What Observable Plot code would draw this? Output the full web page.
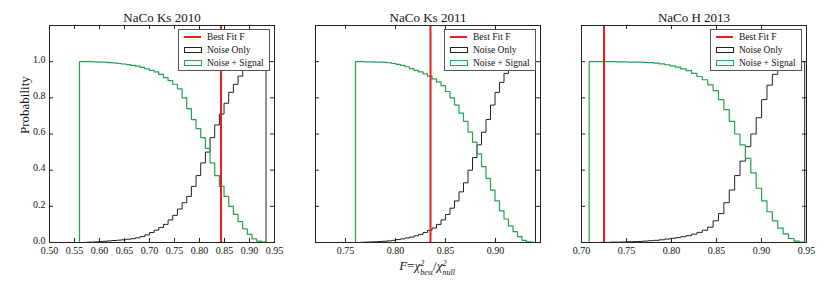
<!DOCTYPE html>
<html><head><meta charset="utf-8">
<script src="https://cdn.jsdelivr.net/npm/d3@7"></script>
<script src="https://cdn.jsdelivr.net/npm/@observablehq/plot@0.6"></script>
<style>
html,body{margin:0;padding:0;background:#fff;}
body{width:830px;height:282px;overflow:hidden;position:relative;font-family:"Liberation Serif","DejaVu Serif",serif;color:#111;}
.panel{position:absolute;top:0;}
.panel svg text{font-family:"Liberation Serif","DejaVu Serif",serif;}
.legend{position:absolute;top:29px;width:92px;height:42px;border:1px solid #555;background:#fff;box-sizing:border-box;font-size:9.5px;}
.legend .row{position:absolute;left:0;right:0;height:12px;}
.legend .lbl{position:absolute;left:28px;top:0;line-height:12px;white-space:nowrap;}
.legend .sw{position:absolute;left:5px;}
.xlabel{position:absolute;left:327px;width:200px;top:259px;text-align:center;font-size:13px;line-height:14px;white-space:nowrap;}
.xlabel i{font-style:italic;}
.ss{display:inline-block;vertical-align:-5px;line-height:9px;font-size:8px;text-align:left;font-style:italic;}
.ss span{display:block;height:9px;}
</style></head><body>
<script>
// ---- data ----
const titles = ["NaCo Ks 2010", "NaCo Ks 2011", "NaCo H 2013"];
const xDomain1 = [0.50, 0.95];
const xDomain2 = [0.72, 0.945];
const xDomain3 = [0.70, 0.95];
const xTicks1 = [0.50, 0.55, 0.60, 0.65, 0.70, 0.75, 0.80, 0.85, 0.90, 0.95];
const xTicks2 = [0.75, 0.80, 0.85, 0.90];
const xTicks3 = [0.70, 0.75, 0.80, 0.85, 0.90, 0.95];
const yTicks = [0.0, 0.2, 0.4, 0.6, 0.8, 1.0];
const bestFit = [0.843, 0.835, 0.725];
// histogram bin range [first edge, last edge] per panel (40 equal bins)
const binRange1 = [0.560, 0.933];
const binRange2 = [0.760, 0.940];
const binRange3 = [0.7085, 0.948];
// cumulative probabilities per bin
const signal1 = [1.0,1.0,1.0,0.999,0.998,0.997,0.995,0.993,0.99,0.987,0.984,0.98,0.975,0.968,0.96,0.952,0.943,0.93,0.912,0.895,0.875,0.85,0.80,0.74,0.68,0.63,0.58,0.52,0.44,0.37,0.31,0.255,0.2,0.155,0.115,0.075,0.045,0.02,0.008,0.002];
const noise1 = [0.0,0.001,0.002,0.003,0.005,0.007,0.009,0.011,0.013,0.015,0.018,0.021,0.026,0.033,0.042,0.055,0.068,0.083,0.1,0.125,0.15,0.185,0.22,0.255,0.31,0.37,0.44,0.5,0.58,0.65,0.71,0.77,0.83,0.875,0.92,0.96,0.985,0.995,1.0,1.0];
const signal2 = [1.0,1.0,0.999,0.999,0.998,0.997,0.996,0.994,0.99,0.985,0.98,0.972,0.962,0.952,0.943,0.932,0.92,0.905,0.888,0.868,0.835,0.8,0.76,0.715,0.67,0.61,0.555,0.49,0.42,0.355,0.29,0.23,0.175,0.13,0.092,0.06,0.032,0.012,0.004,0.001];
const noise2 = [0.0,0.001,0.002,0.003,0.004,0.005,0.007,0.009,0.012,0.016,0.02,0.025,0.03,0.037,0.045,0.055,0.067,0.08,0.1,0.125,0.155,0.19,0.23,0.28,0.33,0.4,0.47,0.54,0.61,0.68,0.76,0.83,0.885,0.935,0.97,0.99,0.997,1.0,1.0,1.0];
const signal3 = [1.0,1.0,1.0,1.0,1.0,0.999,0.999,0.998,0.998,0.997,0.996,0.995,0.992,0.988,0.983,0.977,0.97,0.96,0.95,0.935,0.918,0.9,0.872,0.84,0.79,0.735,0.67,0.6,0.54,0.465,0.385,0.3,0.23,0.17,0.12,0.08,0.048,0.022,0.008,0.002];
const noise3 = [0.0,0.0,0.001,0.001,0.002,0.002,0.003,0.004,0.005,0.006,0.008,0.01,0.012,0.015,0.019,0.023,0.027,0.032,0.038,0.046,0.056,0.068,0.085,0.12,0.16,0.22,0.29,0.37,0.45,0.53,0.6,0.69,0.79,0.87,0.93,0.975,0.995,1.0,1.0,1.0];
const legendLabels = ["Best Fit F", "Noise Only", "Noise + Signal"];

// ---- style / layout ----
const RED = "#ee1d1d", GREEN = "#27a052", BLACK = "#222";
const FONT = "'Liberation Serif', 'DejaVu Serif', serif";
const W = 275, H = 282, ML = 40, MR = 10, MT = 25, MB = 40;
const FW = W - ML - MR, FH = H - MT - MB;
const lefts = [9, 275, 541];

function stepPoints(range, vals) {
  const [lo, hi] = range, n = vals.length, w = (hi - lo) / n;
  const pts = [{x: lo, y: 0}];
  vals.forEach((v, i) => { pts.push({x: lo + i * w, y: v}); pts.push({x: lo + (i + 1) * w, y: v}); });
  pts.push({x: hi, y: 0});
  return pts;
}

const cfg = [
  {dom: xDomain1, ticks: xTicks1, bins: binRange1, sig: signal1, noi: noise1},
  {dom: xDomain2, ticks: xTicks2, bins: binRange2, sig: signal2, noi: noise2},
  {dom: xDomain3, ticks: xTicks3, bins: binRange3, sig: signal3, noi: noise3}
];

cfg.forEach((c, i) => {
  const marks = [
    Plot.line(stepPoints(c.bins, c.noi), {x: "x", y: "y", stroke: BLACK, strokeWidth: 1}),
    Plot.line(stepPoints(c.bins, c.sig), {x: "x", y: "y", stroke: GREEN, strokeWidth: 1.2}),
    Plot.ruleX([bestFit[i]], {stroke: RED, strokeWidth: 2}),
    Plot.frame({stroke: BLACK, strokeWidth: 1}),
    Plot.tickX(c.ticks, {x: d => d, insetTop: FH - 4, stroke: BLACK}),
    Plot.tickX(c.ticks, {x: d => d, insetBottom: FH - 4, stroke: BLACK}),
    Plot.tickY(yTicks, {y: d => d, insetRight: FW - 4, stroke: BLACK}),
    Plot.tickY(yTicks, {y: d => d, insetLeft: FW - 4, stroke: BLACK}),
    Plot.axisX(c.ticks, {tickSize: 0, tickPadding: 4, tickFormat: d3.format(".2f"), label: null, fontSize: 10, fontFamily: FONT}),
    Plot.text([titles[i]], {frameAnchor: "top", dy: -4, lineAnchor: "bottom", fontSize: 13, fill: "#111", fontFamily: FONT})
  ];
  if (i === 0) {
    marks.push(Plot.axisY(yTicks, {tickSize: 0, tickPadding: 4, dy: -2, tickFormat: d3.format(".1f"), label: null, fontSize: 10, fontFamily: FONT}));
    marks.push(Plot.text(["Probability"], {frameAnchor: "left", dx: -25, rotate: -90, fontSize: 13, fill: "#111", fontFamily: FONT}));
  }
  const svg = Plot.plot({
    width: W, height: H, marginLeft: ML, marginRight: MR, marginTop: MT, marginBottom: MB,
    x: {domain: c.dom, axis: null},
    y: {domain: [0, 1.2], axis: null},
    style: {fontFamily: FONT, fontSize: "10px", background: "transparent", color: "#111", overflow: "visible"},
    marks
  });
  const wrap = document.createElement("div");
  wrap.className = "panel";
  wrap.style.left = lefts[i] + "px";
  wrap.appendChild(svg);
  document.body.appendChild(wrap);

  // legend
  const lg = document.createElement("div");
  lg.className = "legend";
  lg.style.left = (lefts[i] + ML + FW - 4 - 92) + "px";
  const rowTops = [1, 14, 27];
  legendLabels.forEach((t, k) => {
    const row = document.createElement("div");
    row.className = "row";
    row.style.top = rowTops[k] + "px";
    const sw = document.createElementNS("http://www.w3.org/2000/svg", "svg");
    sw.setAttribute("class", "sw");
    sw.setAttribute("width", 18); sw.setAttribute("height", 12);
    if (k === 0) {
      sw.innerHTML = `<line x1="0" x2="17" y1="6" y2="6" stroke="${RED}" stroke-width="2"/>`;
    } else {
      sw.innerHTML = `<rect x="0.5" y="3.5" width="17" height="5" fill="none" stroke="${k === 1 ? BLACK : GREEN}" stroke-width="1"/>`;
    }
    row.appendChild(sw);
    const lb = document.createElement("span");
    lb.className = "lbl";
    lb.textContent = t;
    row.appendChild(lb);
    lg.appendChild(row);
  });
  document.body.appendChild(lg);
});

// x-axis label under middle panel
const xl = document.createElement("div");
xl.className = "xlabel";
xl.innerHTML = '<i>F</i>=<i>χ</i><span class="ss"><span>2</span><span>best</span></span>/<i>χ</i><span class="ss"><span>2</span><span>null</span></span>';
document.body.appendChild(xl);
</script>
</body></html>
